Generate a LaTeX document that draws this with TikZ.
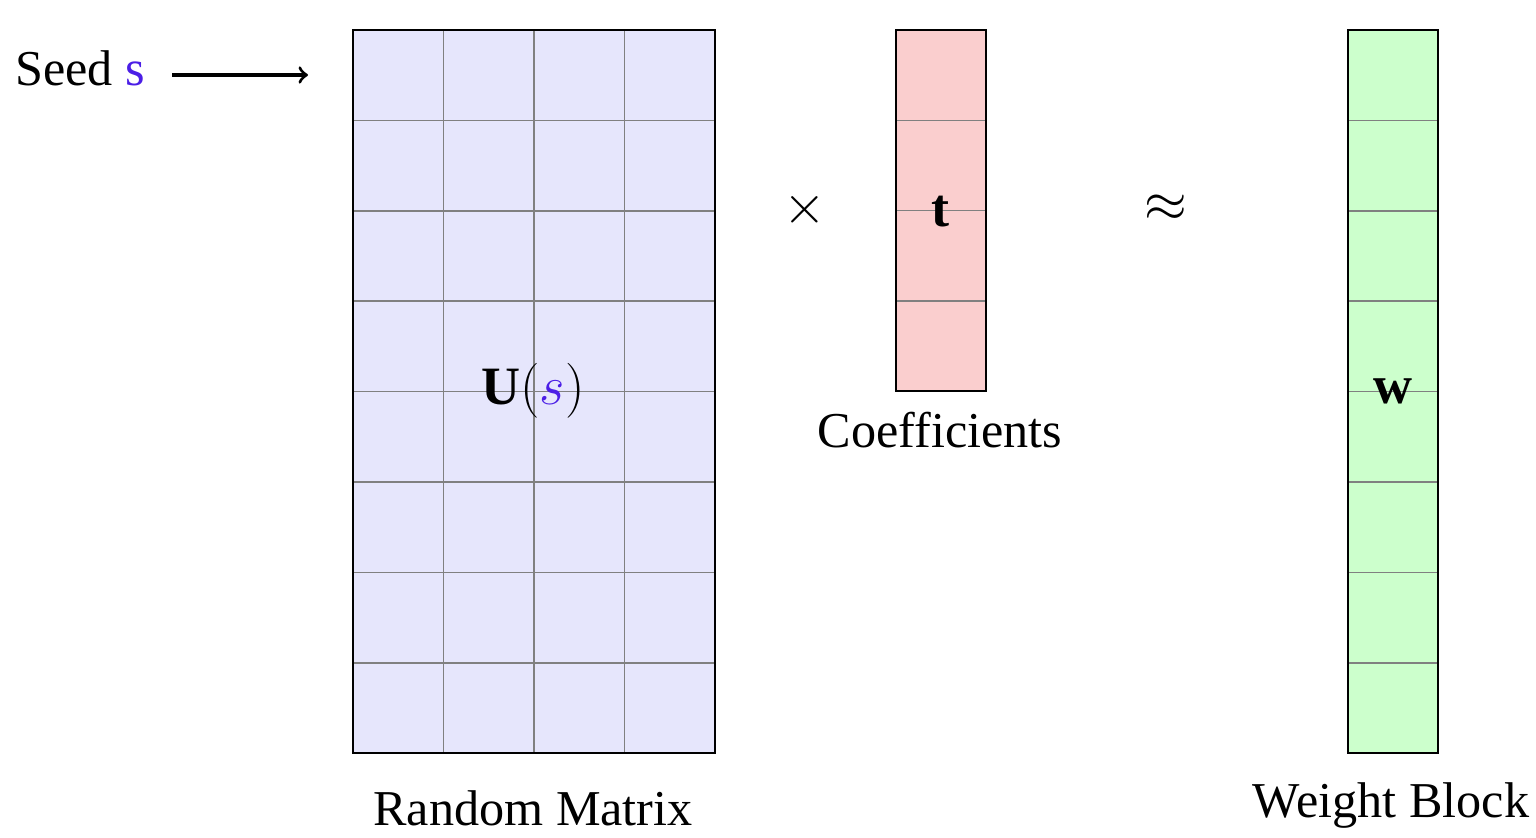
\documentclass[tikz,border=0pt]{standalone}
\usepackage{tikz}
\usepackage{fontspec}
\setmainfont{Liberation Serif}
\definecolor{seedblue}{RGB}{75,30,230}
\definecolor{matfill}{RGB}{230,230,252}
\definecolor{coeffill}{RGB}{250,206,206}
\definecolor{wfill}{RGB}{204,255,204}
\tikzset{cell/.style={draw=gray,line width=0.5pt},
         frame/.style={draw=black,line width=0.7pt},
         lbl/.style={font=\fontsize{15.8}{19}\selectfont,inner sep=0pt},
         mlbl/.style={font=\fontsize{17}{20}\selectfont,inner sep=0pt}}
\begin{document}
\begin{tikzpicture}[x=0.011062cm,y=-0.011062cm]
\useasboundingbox (0,0) rectangle (1536,838);
% random matrix
\fill[matfill] (353,30) rectangle (715,753);
\foreach \i in {1,...,3} \draw[cell] (353+90.5*\i,30) -- (353+90.5*\i,753);
\foreach \j in {1,...,7} \draw[cell] (353,30+90.4*\j) -- (715,30+90.4*\j);
\draw[frame] (353,30) rectangle (715,753);
% coefficients
\fill[coeffill] (896,30) rectangle (986,391);
\foreach \j in {1,...,3} \draw[cell] (896,30+90.3*\j) -- (986,30+90.3*\j);
\draw[frame] (896,30) rectangle (986,391);
% weight block
\fill[wfill] (1348,30) rectangle (1438,753);
\foreach \j in {1,...,7} \draw[cell] (1348,30+90.4*\j) -- (1438,30+90.4*\j);
\draw[frame] (1348,30) rectangle (1438,753);
% labels
\node[lbl] (seed) at (80,68) {Seed \textcolor{seedblue}{s}};
\coordinate (matin) at (308,75);
\draw[line width=1pt,->] (172,75) -- (matin);
\node[mlbl] (U) at (533,391) {$\mathbf{U}(\textcolor{seedblue}{s})$};
\node[mlbl] (times) at (805,210) {$\times$};
\node[mlbl] (t) at (940,212) {$\mathbf{t}$};
\node[mlbl] (approx) at (1166,208) {$\approx$};
\node[mlbl] (w) at (1393,391) {$\mathbf{w}$};
\node[lbl] (coef) at (940,430) {Coefficients};
\node[lbl] (rm) at (533,808) {Random Matrix};
\node[lbl] (wb) at (1391,805) {Weight Block};
\end{tikzpicture}
\end{document}
